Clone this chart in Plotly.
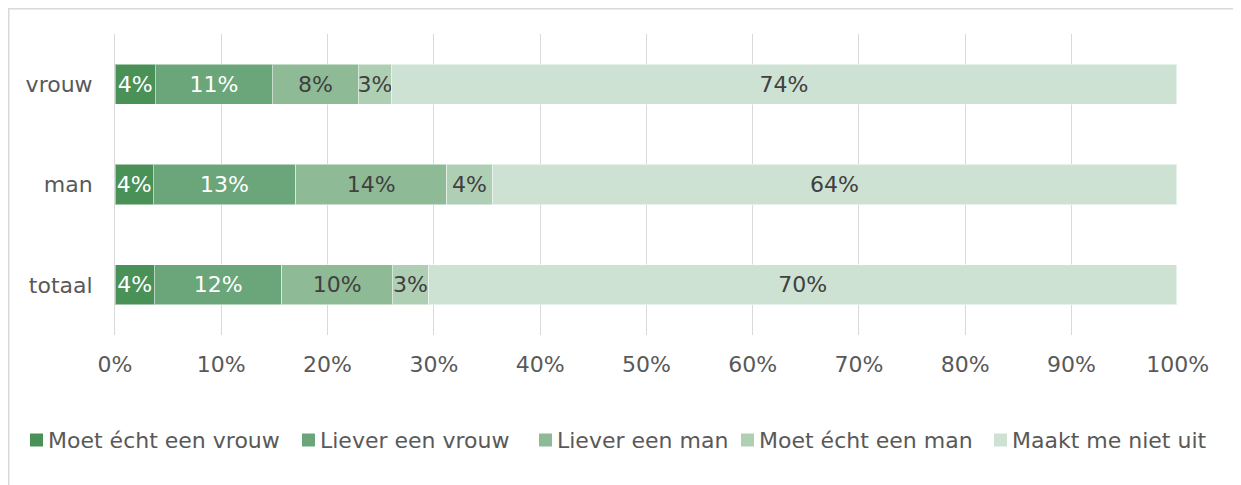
import plotly.graph_objects as go

categories = ["totaal", "man", "vrouw"]
series_names = ["Moet écht een vrouw", "Liever een vrouw", "Liever een man",
                "Moet écht een man", "Maakt me niet uit"]
# values per series (percent), in order of categories (totaal, man, vrouw)
moet_vrouw = [3.7, 3.6, 3.8]
liever_vrouw = [12.0, 13.4, 11.0]
liever_man = [10.4, 14.2, 8.1]
moet_man = [3.4, 4.3, 3.1]
maakt_niet_uit = [70.4, 64.4, 73.9]
x_ticks = [0, 10, 20, 30, 40, 50, 60, 70, 80, 90, 100]
x_tick_labels = ["0%", "10%", "20%", "30%", "40%", "50%", "60%", "70%", "80%", "90%", "100%"]

series_values = [moet_vrouw, liever_vrouw, liever_man, moet_man, maakt_niet_uit]
colors = ["#4a9158", "#6aa67a", "#8eba96", "#afcfb4", "#cde2d2"]
text_colors = ["#ffffff", "#ffffff", "#404040", "#404040", "#404040"]

FONT = "DejaVu Sans"
FS = 22
GREY = "#595959"

fig = go.Figure()
for name, vals, col, tcol in zip(series_names, series_values, colors, text_colors):
    fig.add_trace(go.Bar(
        y=categories, x=vals, name=name, orientation="h",
        marker=dict(color=col, line=dict(color="rgba(255,255,255,0.5)", width=1)),
        texttemplate="%{x:.0f}%", textposition="inside", textangle=0,
        insidetextanchor="middle",
        textfont=dict(family=FONT, size=FS, color=tcol),
        hoverinfo="skip", showlegend=False,
    ))

# page body has an 8px margin; figure coordinates = screen - 8
W, H = 1233, 477
L, R, T, B = 107, 63, 26, 150
pw = W - L - R
ph = H - T - B
OFF = 8


def px_x(p):
    return (p - OFF - L) / pw


def px_y(p):
    return (H - B - (p - OFF)) / ph


shapes = [dict(type="rect", xref="paper", yref="paper",
               x0=px_x(8.5), x1=px_x(1238), y0=px_y(492), y1=px_y(8.5),
               line=dict(color="#d9d9d9", width=2), layer="below")]
annotations = []
legend_left = [30, 302, 539, 741, 994]
SQ = 13
LEG_Y = 440
for name, col, lx in zip(series_names, colors, legend_left):
    shapes.append(dict(type="rect", xref="paper", yref="paper",
                       x0=px_x(lx), x1=px_x(lx + SQ),
                       y0=px_y(LEG_Y + SQ / 2), y1=px_y(LEG_Y - SQ / 2),
                       line=dict(width=0), fillcolor=col))
    annotations.append(dict(text=name, xref="paper", yref="paper",
                            x=px_x(lx + SQ + 3), y=px_y(LEG_Y),
                            xanchor="left", yanchor="middle", showarrow=False,
                            font=dict(family=FONT, size=FS, color=GREY)))

fig.update_layout(
    width=W, height=H,
    barmode="stack", bargap=0.6,
    plot_bgcolor="white", paper_bgcolor="white",
    margin=dict(l=L, r=R, t=T, b=B),
    font=dict(family=FONT, size=FS, color=GREY),
    uniformtext=dict(minsize=FS, mode="show"),
    showlegend=False,
    xaxis=dict(range=[0, 100.02], tickvals=x_ticks, ticktext=x_tick_labels,
               showgrid=True, gridcolor="#d9d9d9", gridwidth=1,
               zeroline=False, showline=False, ticks="",
               ticklabelstandoff=14,
               tickfont=dict(family=FONT, size=FS, color=GREY)),
    yaxis=dict(categoryorder="array", categoryarray=categories,
               showgrid=False, zeroline=False, showline=True,
               linecolor="#d9d9d9", linewidth=1, ticks="",
               ticklabelstandoff=17,
               tickfont=dict(family=FONT, size=FS, color=GREY)),
    shapes=shapes,
    annotations=annotations,
)

fig.write_html("out.html")
